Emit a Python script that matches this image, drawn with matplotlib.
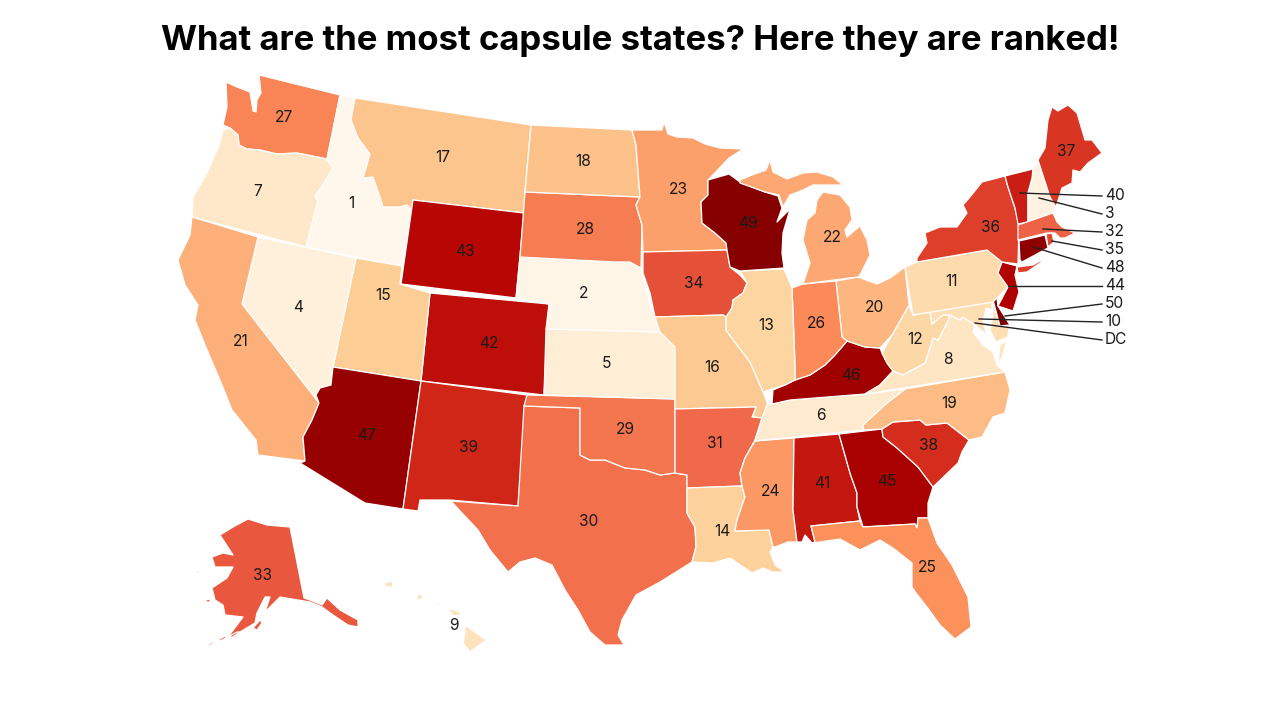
import matplotlib
matplotlib.use("Agg")
import matplotlib.pyplot as plt
from matplotlib.patches import Polygon

plt.rcParams['font.family'] = ['Inter', 'DejaVu Sans']

TITLE = "What are the most capsule states? Here they are ranked!"

# rank of each state
ranks = {
    'ID': 1, 'NE': 2, 'NH': 3, 'NV': 4, 'KS': 5, 'TN': 6, 'OR': 7, 'VA': 8, 'HI': 9, 'MD': 10,
    'PA': 11, 'WV': 12, 'IL': 13, 'LA': 14, 'UT': 15, 'MO': 16, 'MT': 17, 'ND': 18, 'NC': 19, 'OH': 20,
    'CA': 21, 'MI': 22, 'MN': 23, 'MS': 24, 'FL': 25, 'IN': 26, 'WA': 27, 'SD': 28, 'OK': 29, 'TX': 30,
    'AR': 31, 'MA': 32, 'AK': 33, 'IA': 34, 'RI': 35, 'NY': 36, 'ME': 37, 'SC': 38, 'NM': 39, 'VT': 40,
    'AL': 41, 'CO': 42, 'WY': 43, 'NJ': 44, 'GA': 45, 'KY': 46, 'AZ': 47, 'CT': 48, 'WI': 49, 'DE': 50,
}

# state outlines, in image pixels
outlines = {
    'WA': [[(259,75),(340,95),(327,159),(297,153),(277,154),(260,150),(247,149),(239,145),(238,135),(230,128),(223,125),(227,107),(226,82),(237,87),(250,92),(253,111),(256,112),(257,100),(261,93)]],
    'OR': [[(223,130),(230,128),(238,135),(239,145),(247,149),(260,150),(277,154),(297,153),(327,159),(333,168),(323,185),(315,196),(318,201),(306,247),(192,217),(193,197),(207,173),(220,143)]],
    'ID': [[(340,95),(355,98),(351,120),(358,138),(370,154),(366,168),(363,178),(373,177),(380,197),(383,207),(400,207),(407,205),(412,210),(402,266),(306,247),(318,201),(315,196),(323,185),(333,168),(327,159)]],
    'MT': [[(355,98),(531,125),(525,192),(524,213),(413,200),(412,210),(407,205),(400,207),(383,207),(380,197),(373,177),(363,178),(366,168),(370,154),(358,138),(351,120)]],
    'WY': [[(413,200),(524,213),(516,298),(401,284)]],
    'CO': [[(430,293),(549,304),(544,395),(421,381)]],
    'UT': [[(356,258),(402,266),(400,284),(430,293),(421,381),(333,367)]],
    'NV': [[(258,237),(356,258),(333,367),(331,385),(320,388),(316,395),(319,403),(242,304)]],
    'CA': [[(192,217),(258,237),(242,304),(319,403),(312,420),(303,437),(305,461),(258,455),(256,440),(232,410),(222,385),(205,345),(195,320),(198,305),(185,285),(178,260),(190,235)]],
    'AZ': [[(333,367),(421,381),(403,509),(365,503),(300,463),(305,461),(303,437),(312,420),(319,403),(316,395),(320,388),(331,385)]],
    'NM': [[(421,381),(527,395),(518,506),(450,500),(420,500),(418,511),(403,509)]],
    'TX': [[(524,406),(580,408),(580,455),(590,460),(605,460),(625,468),(645,470),(660,475),(675,473),(687,475),(687,513),(695,527),(696,547),(692,562),(660,582),(636,595),(622,620),(618,635),(624,645),(605,645),(590,632),(578,610),(565,590),(552,565),(535,558),(520,562),(508,572),(490,550),(478,530),(462,513),(451,501),(518,506)]],
    'OK': [[(527,395),(675,399),(675,473),(660,475),(645,470),(625,468),(605,460),(590,460),(580,455),(580,408),(524,406)]],
    'KS': [[(546,329),(660,332),(668,340),(675,347),(675,399),(544,395)]],
    'NE': [[(520,257),(615,262),(630,262),(641,268),(645,285),(650,305),(655,317),(660,332),(546,329),(549,304),(516,298)]],
    'SD': [[(525,192),(640,197),(636,205),(642,225),(641,268),(630,262),(615,262),(520,257)]],
    'ND': [[(531,125),(632,130),(636,145),(640,197),(525,192)]],
    'MN': [[(632,130),(662,130),(664,122),(668,134),(677,137),(693,138),(705,144),(720,148),(743,149),(729,158),(710,178),(708,180),(708,195),(701,202),(702,223),(715,233),(726,243),(727,250),(643,252),(642,225),(636,205),(640,197),(636,145)]],
    'IA': [[(643,252),(727,250),(730,267),(740,275),(747,283),(743,293),(733,300),(732,308),(726,317),(723,315),(655,317),(650,293),(643,273)]],
    'MO': [[(655,317),(723,315),(726,317),(726,330),(737,345),(750,362),(757,378),(763,392),(768,405),(763,418),(753,417),(756,407),(675,409),(675,347),(668,340),(660,332)]],
    'AR': [[(675,409),(756,407),(752,417),(762,418),(755,440),(745,458),(740,473),(742,486),(687,488),(687,475),(675,473)]],
    'LA': [[(687,488),(742,486),(745,497),(737,520),(735,531),(769,530),(773,547),(770,552),(775,565),(785,572),(773,572),(763,568),(752,573),(730,558),(713,563),(692,562),(696,547),(695,527),(687,513)]],
    'MS': [[(755,441),(794,438),(793,510),(797,542),(788,542),(775,547),(773,547),(769,530),(735,531),(737,520),(745,497),(742,486),(740,473),(745,458)]],
    'AL': [[(794,438),(839,434),(850,473),(857,493),(857,507),(860,521),(811,526),(815,542),(812,543),(805,535),(802,542),(797,542),(793,510)]],
    'GA': [[(839,434),(882,429),(883,437),(897,448),(918,467),(933,487),(928,503),(928,518),(918,518),(917,528),(915,524),(863,527),(857,507),(857,493),(850,473)]],
    'FL': [[(811,526),(860,521),(863,527),(915,524),(917,528),(918,518),(928,518),(937,543),(952,565),(968,597),(971,627),(955,639),(940,625),(927,607),(916,593),(912,587),(912,563),(893,548),(880,540),(860,550),(840,539),(813,543),(815,542)]],
    'SC': [[(882,429),(893,422),(920,420),(926,425),(947,423),(969,440),(962,452),(958,463),(933,487),(918,467),(897,448),(883,437)]],
    'NC': [[(905,389),(1005,372),(1010,390),(1005,413),(993,417),(982,437),(969,440),(947,423),(926,425),(920,420),(893,422),(882,429),(863,430),(863,425),(877,412),(887,403)]],
    'TN': [[(772,404),(790,400),(865,394),(905,389),(887,403),(877,412),(863,425),(863,430),(755,441),(762,418),(767,405)]],
    'KY': [[(772,404),(773,390),(785,385),(795,380),(810,375),(825,365),(835,355),(847,341),(865,347),(880,348),(882,353),(887,363),(893,371),(880,385),(865,394),(790,400)]],
    'VA': [[(865,394),(880,385),(893,371),(903,375),(925,363),(933,338),(938,340),(947,323),(950,315),(960,320),(963,317),(975,325),(973,332),(983,345),(993,352),(997,365),(1005,372)],
           [(1007,340),(1002,358),(998,365),(1000,345)]],
    'WV': [[(909,305),(913,315),(930,312),(932,324),(943,315),(950,315),(947,323),(938,340),(933,338),(925,363),(903,375),(893,371),(887,363),(882,353),(892,335)]],
    'MD': [[(930,312),(992,302),(992,310),(986,308),(983,322),(987,335),(975,325),(963,317),(960,320),(950,315),(943,315),(932,324)],
           [(993,303),(1000,326),(1009,326),(1008,337),(996,342),(990,330),(993,318)]],
    'DE': [[(993,300),(997,298),(998,306),(1010,325),(1000,326)]],
    'PA': [[(905,267),(917,262),(987,250),(1002,260),(998,273),(1008,287),(993,302),(913,315)]],
    'NJ': [[(1002,262),(1017,266),(1015,275),(1019,292),(1013,311),(998,306),(1008,287),(998,273)]],
    'OH': [[(836,281),(858,277),(877,284),(890,278),(905,267),(909,305),(892,335),(880,348),(865,347),(847,341),(842,337)]],
    'IN': [[(792,288),(803,284),(836,281),(842,337),(847,341),(835,355),(825,365),(810,375),(795,380),(795,365)]],
    'IL': [[(740,271),(784,269),(792,288),(795,365),(795,380),(785,385),(772,389),(763,392),(757,378),(750,362),(737,345),(726,330),(726,317),(732,308),(733,300),(743,293),(747,283)]],
    'WI': [[(708,180),(729,174),(740,182),(765,192),(778,196),(782,208),(777,222),(790,209),(783,233),(782,253),(784,268),(740,271),(730,267),(727,250),(726,243),(715,233),(702,223),(701,202),(708,195)]],
    'MI': [[(740,180),(752,175),(766,170),(770,160),(773,172),(787,179),(803,173),(817,172),(833,177),(843,185),(825,185),(813,185),(803,190),(790,195),(783,207),(779,195),(765,192),(740,183)],
           [(823,192),(840,195),(850,207),(852,220),(845,230),(847,237),(860,226),(867,240),(870,255),(860,275),(858,277),(803,284),(810,263),(803,240),(807,220),(815,213),(817,200)]],
    'NY': [[(1005,176),(982,182),(970,197),(963,205),(967,213),(957,227),(940,227),(925,233),(927,243),(917,258),(917,262),(987,250),(1002,262),(1018,264),(1019,225),(1015,208),(1008,187)],
           [(1018,273),(1017,267),(1033,265),(1045,258),(1040,263),(1027,272)]],
    'VT': [[(1005,176),(1033,169),(1032,178),(1028,193),(1028,222),(1018,224),(1015,208),(1008,187)]],
    'NH': [[(1038,162),(1050,197),(1056,207),(1053,213),(1028,222),(1028,193),(1033,178),(1033,168)]],
    'ME': [[(1052,107),(1058,111),(1068,105),(1077,113),(1085,140),(1092,140),(1102,153),(1088,163),(1080,172),(1073,170),(1072,183),(1062,188),(1056,207),(1050,197),(1038,160),(1045,148),(1048,120)]],
    'MA': [[(1018,225),(1053,213),(1057,222),(1062,227),(1075,233),(1065,238),(1060,238),(1055,233),(1047,233),(1018,240)]],
    'RI': [[(1046,234),(1052,233),(1054,242),(1048,247)]],
    'CT': [[(1019,241),(1045,235),(1048,248),(1022,262),(1020,260)]],
    'AK': [[(248,519),(267,525),(290,527),(304,598),(310,600),(322,605),(327,598),(340,610),(358,620),(358,627),(348,625),(333,615),(322,607),(310,602),(280,597),(270,607),(265,612),(270,597),(265,597),(257,613),(255,623),(240,632),(228,637),(243,617),(225,615),(223,605),(215,600),(212,588),(227,578),(233,567),(215,567),(212,557),(223,553),(233,555),(220,535),(233,527)],
           [(195,570),(200,573),(202,575),(197,573)],
           [(205,600),(210,599),(210,602),(207,602)],
           [(253,628),(260,620),(262,623),(257,630)],
           [(228,637),(237,632),(240,632),(233,637)],
           [(218,640),(225,636),(226,638),(220,641)],
           [(207,645),(213,642),(213,644),(208,646)]],
    'HI': [[(384,583),(392,581),(393,587),(386,587)],
           [(416,597),(421,593),(423,599),(418,600)],
           [(435,604),(440,603),(441,605),(437,605)],
           [(448,608),(460,612),(461,615),(453,616)],
           [(465,625),(486,640),(470,652),(463,643),(465,633)]],
}

# where the rank numbers sit on the map
label_xy = {
    'ID': (351,204), 'NE': (584,294), 'NV': (298,308), 'KS': (606,364), 'TN': (821,416), 'OR': (258,191),
    'VA': (948,359), 'HI': (454,626), 'PA': (952,281), 'WV': (915,340), 'IL': (766,325), 'LA': (722,531),
    'UT': (383,296), 'MO': (712,367), 'MT': (443,157), 'ND': (583,162), 'NC': (949,404), 'OH': (875,308),
    'CA': (241,342), 'MI': (832,237), 'MN': (678,189), 'MS': (771,491), 'FL': (927,567), 'IN': (816,324),
    'WA': (284,117), 'SD': (585,229), 'OK': (625,430), 'TX': (589,521), 'AR': (715,444), 'AK': (262,575),
    'IA': (694,283), 'NY': (991,228), 'ME': (1066,151), 'SC': (929,446), 'NM': (468,447), 'AL': (822,484),
    'CO': (489,344), 'WY': (465,252), 'GA': (887,481), 'KY': (851,376), 'AZ': (367,435), 'WI': (748,224),
}

# small states labelled at the side with a leader line
side_labels = ['40', '3', '32', '35', '48', '44', '50', '10', 'DC']
side_starts = [(1020,193), (1039,198), (1043,229), (1052,241), (1033,247), (1008,286), (1005,316), (979,319), (975,323)]
side_ends = [196, 214, 232, 250, 268, 286, 304, 322, 340]

fig = plt.figure(figsize=(12.8, 7.2), dpi=100, facecolor='white')
ax = fig.add_axes([0, 0, 1, 1])
ax.set_xlim(0, 1280)
ax.set_ylim(720, 0)
ax.axis('off')

cmap = plt.cm.OrRd
norm = plt.Normalize(1, 50)

for state, parts in outlines.items():
    color = cmap(norm(ranks[state]))
    for part in parts:
        ax.add_patch(Polygon(part, closed=True, facecolor=color, edgecolor='white', linewidth=0.9, joinstyle='round'))

for state, (x, y) in label_xy.items():
    ax.text(x, y, str(ranks[state]), ha='center', va='center', fontsize=11.2, color='#1a1a1a', zorder=5)

for label, (x, y), end in zip(side_labels, side_starts, side_ends):
    ax.plot([x, 1102], [y, end], color='#222222', linewidth=1, zorder=5)
    ax.text(1105, end, label, ha='left', va='center', fontsize=11.2, color='#1a1a1a', zorder=5)

ax.text(640, 41, TITLE, ha='center', va='center', fontsize=25, fontweight='bold', color='black')

fig.savefig('out.png', dpi=100)
